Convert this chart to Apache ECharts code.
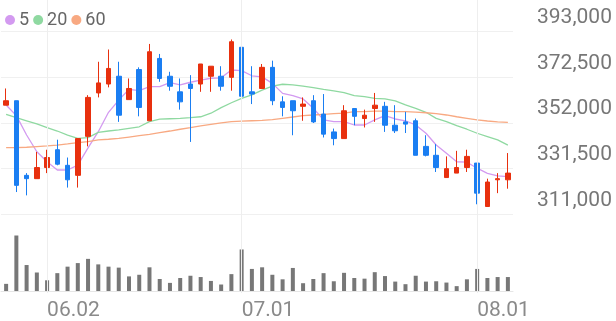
<!DOCTYPE html>
<html><head><meta charset="utf-8">
<script src="https://cdn.jsdelivr.net/npm/echarts@6/dist/echarts.min.js"></script>
<style>html,body{margin:0;padding:0;background:#fff}#c{width:616px;height:321px}</style>
</head><body><div id="c"></div>
<script>
const dates = ['05.27','05.28','05.29','05.30','06.02','06.04','06.05','06.09','06.10','06.11','06.12','06.13','06.16','06.17','06.18','06.19','06.20','06.23','06.24','06.25','06.26','06.27','06.30',
'07.01','07.02','07.03','07.04','07.07','07.08','07.09','07.10','07.11','07.14','07.15','07.16','07.17','07.18','07.21','07.22','07.23','07.24','07.25','07.28','07.29','07.30','07.31',
'08.01','08.04','08.05','08.06'];
const opens  = [360000,362000,328500,327000,332000,340000,333000,328500,346000,365500,369500,373000,362500,376000,353000,381000,373000,366000,369500,369500,373000,373000,372500,386000,366000,367500,377000,361500,362000,359500,362000,356000,348000,345000,358500,354000,358500,359500,351000,352500,353000,341500,337500,327500,329500,332000,334000,314500,326500,326500];
const closes = [362000,324000,327000,332000,336500,333500,326500,345000,363500,370000,376500,355500,367500,359000,384000,372000,368500,361500,367500,378500,377500,368500,388500,364000,365000,377000,362000,359000,357500,360500,352500,347000,345000,357500,355000,355500,360000,351000,348500,351500,337500,337500,332000,331500,332000,337000,320500,325500,327000,329500];
const lows   = [360000,321000,319500,327000,329500,333000,323000,323000,341500,363500,368000,352500,362500,355000,353000,370500,366500,358000,343500,366000,366000,366500,366500,359000,360500,367500,360000,355000,346500,353000,352000,345500,342000,345000,351000,350000,352500,348000,347500,347500,337500,337000,330000,327500,329500,330000,315500,314500,320500,322500];
const highs  = [367500,362000,329500,339000,340000,344500,336500,345000,364500,379500,385000,379500,372000,377000,387500,383000,375000,372000,373500,378500,377500,377500,389500,392000,377500,378500,380000,364000,362000,363500,364500,365000,349500,360000,358500,358000,365500,361500,360000,357000,354000,346500,342500,337000,339500,340000,334000,327000,329500,338500];
const volumes = [22000,171000,80000,57000,33000,55000,75000,86000,99000,82000,75000,72000,45000,50000,73000,37000,25000,40000,47000,43000,31000,20000,52000,128000,68000,73000,50000,36000,71000,24000,37000,55000,30000,56000,40000,38000,58000,46000,29000,21000,47000,29000,30000,26000,15000,36000,68000,40000,43000,43000];
const ma5  = [360100,355300,346600,339100,334600,330900,330900,333100,340800,348100,356800,362300,367100,366500,368300,368300,370100,369100,370300,371300,372100,372300,375800,375500,373200,372700,369800,365300,364300,362800,358600,353400,352600,352600,351100,351100,353400,355300,353800,353000,351100,347400,342100,338400,334600,334400,331700,329400,328300,327900];
const ma20 = [355900,354400,353000,351600,349900,348400,346600,345100,345400,347800,348400,348900,349600,350300,352600,353700,353900,354100,354400,354800,356400,358900,361100,363100,364600,366800,368600,369400,369100,368600,367900,367100,366400,365600,364300,363800,363100,362800,361900,360100,358600,356800,354100,352600,350800,349200,347400,345900,344400,342100];
const ma60 = [340900,340900,341100,341400,341700,342100,342600,343200,343600,344400,344700,345100,345700,346300,346900,347700,348400,349200,349900,350700,351400,352100,352600,352800,353000,353200,353500,354100,354700,355300,355600,355900,356200,356400,357100,357100,357300,357300,357100,357100,356900,356600,356200,355600,354800,354100,353400,352900,352500,352300];
const markDates = ['06.02','07.01','08.01'];
const legendNames = ['5','20','60'];
const priceMin = 311000, priceMax = 393000, priceStep = 20500;

const UP = '#e8300e', DOWN = '#1a7ef2';
const candleData = opens.map((o, i) => [o, closes[i], lows[i], highs[i]]);
const fmt = v => String(v).replace(/\B(?=(\d{3})+(?!\d))/g, ',');
const FONT = 'Roboto';
const L = 1, R = 103;

const chart = echarts.init(document.getElementById('c'), null, {renderer: 'canvas'});
chart.setOption({
  animation: false,
  textStyle: {fontFamily: FONT},
  legend: {
    left: 0, top: 6, icon: 'circle', itemWidth: 10, itemHeight: 10, itemGap: 4,
    textStyle: {fontSize: 18, color: '#666', fontFamily: FONT, padding: [0, 0, 0, -1]},
    data: legendNames
  },
  grid: [
    {left: L, right: R, top: 31.7, bottom: 106.7},
    {left: L, right: R, top: 235.5, bottom: 28},
    {left: L, right: R, top: 0, bottom: 28}
  ],
  xAxis: [
    {type: 'category', data: dates, gridIndex: 0, axisLine: {show: false}, axisTick: {show: false}, axisLabel: {show: false}, splitLine: {show: false}},
    {type: 'category', data: dates, gridIndex: 1, axisLine: {lineStyle: {color: '#e6e6e6'}}, axisTick: {show: false},
      splitLine: {show: false},
      axisLabel: {interval: (i, v) => markDates.includes(v), align: 'left', fontSize: 21, color: '#8a8a8a', margin: 9, fontFamily: FONT}},
    {type: 'category', data: dates, gridIndex: 2, show: false}
  ],
  yAxis: [
    {type: 'value', gridIndex: 0, position: 'right', min: priceMin, max: priceMax, interval: priceStep,
      axisLine: {show: false}, axisTick: {show: false},
      splitLine: {lineStyle: {color: '#f0f0f0', width: 1}},
      axisLabel: {margin: 24, fontSize: 21, color: '#777', verticalAlign: 'bottom', lineHeight: 28, fontFamily: FONT, formatter: fmt}},
    {type: 'value', gridIndex: 1, min: 0, max: 'dataMax', show: false},
    {type: 'value', gridIndex: 2, min: 0, max: 1, show: false}
  ],
  series: [
    {type: 'line', xAxisIndex: 2, yAxisIndex: 2, data: [], z: 0, silent: true,
      markLine: {silent: true, symbol: ['none', 'none'], label: {show: false}, animation: false,
        lineStyle: {color: '#eeeeee', type: 'solid', width: 1},
        emphasis: {disabled: true},
        data: markDates.map(d => ({xAxis: d}))}},
    {name: '5', type: 'line', data: ma5, xAxisIndex: 0, yAxisIndex: 0, showSymbol: false, symbol: 'none', smooth: false,
      lineStyle: {width: 1.3, color: '#d39af0'}, itemStyle: {color: '#d39af0'}, z: 2},
    {name: '20', type: 'line', data: ma20, xAxisIndex: 0, yAxisIndex: 0, showSymbol: false, symbol: 'none',
      lineStyle: {width: 1.3, color: '#8fd9a1'}, itemStyle: {color: '#8fd9a1'}, z: 2},
    {name: '60', type: 'line', data: ma60, xAxisIndex: 0, yAxisIndex: 0, showSymbol: false, symbol: 'none',
      lineStyle: {width: 1.3, color: '#f8a982'}, itemStyle: {color: '#f8a982'}, z: 2},
    {type: 'candlestick', data: candleData, xAxisIndex: 0, yAxisIndex: 0, barWidth: 5, z: 3,
      itemStyle: {color: UP, color0: DOWN, borderColor: UP, borderColor0: DOWN, borderWidth: 1}},
    {type: 'bar', data: volumes, xAxisIndex: 1, yAxisIndex: 1, barWidth: 4, itemStyle: {color: '#777777'}}
  ]
});
</script>
</body></html>
